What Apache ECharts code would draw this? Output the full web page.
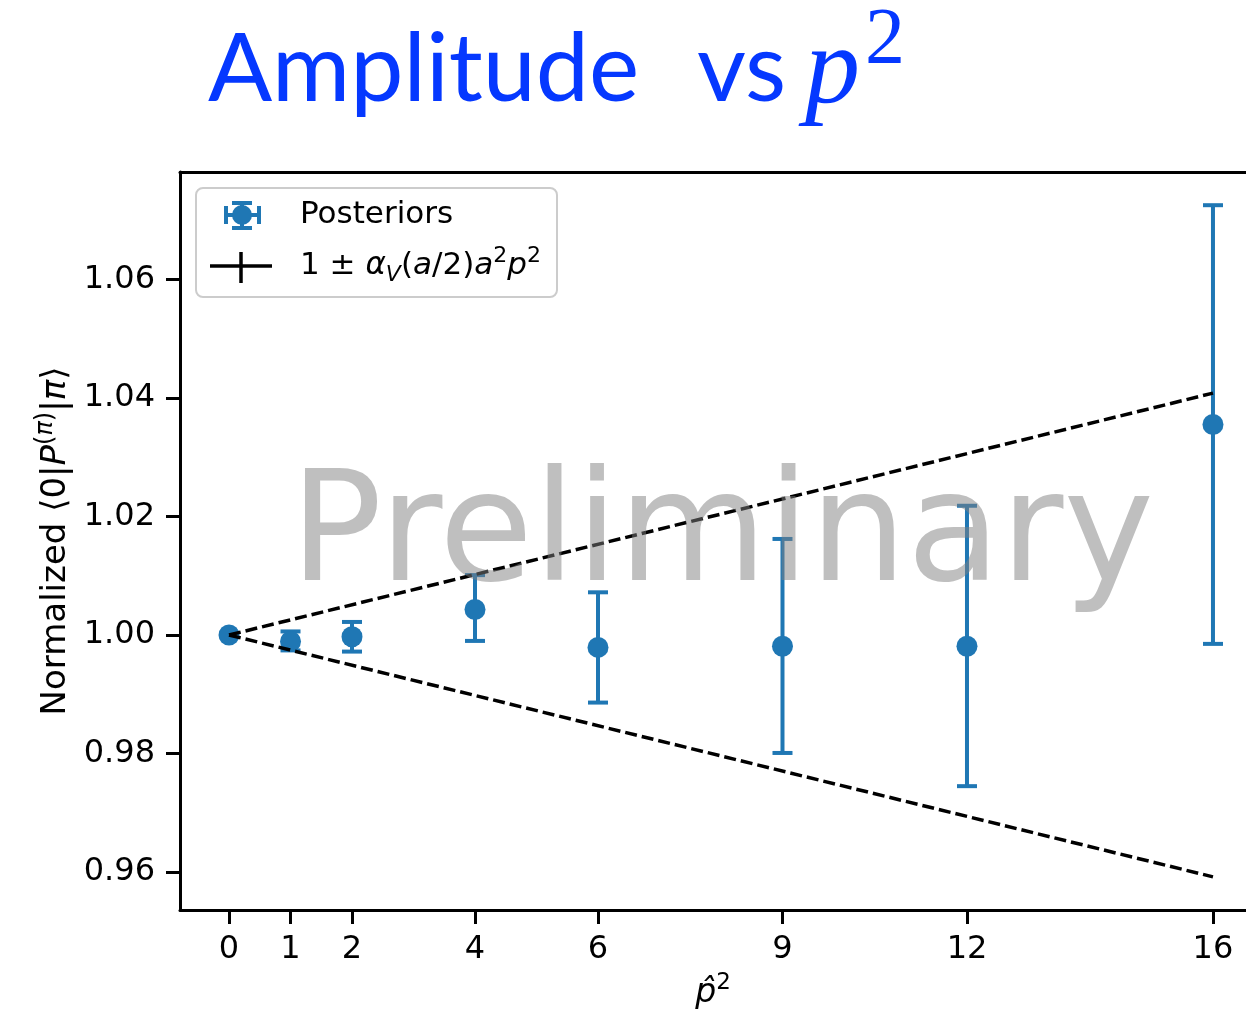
<!DOCTYPE html>
<html><head><meta charset="utf-8">
<script src="https://cdn.jsdelivr.net/npm/echarts@6/dist/echarts.min.js"></script>
<style>html,body{margin:0;padding:0;background:#fff}#c{width:1246px;height:1022px}</style>
</head><body><div id="c"></div>
<script>
// ---- data ----
const xTicks = [0, 1, 2, 4, 6, 9, 12, 16];
const yTicks = [0.96, 0.98, 1.00, 1.02, 1.04, 1.06];
const p2 = [0, 1, 2, 4, 6, 9, 12, 16];
const amp = [1.0000, 0.9989, 0.9997, 1.0043, 0.9979, 0.9981, 0.9981, 1.0355];
const errLo = [1.0000, 0.9974, 0.9972, 0.9990, 0.9886, 0.9801, 0.9745, 0.9985];
const errHi = [1.0000, 1.0006, 1.0022, 1.0101, 1.0072, 1.0162, 1.0218, 1.0725];
const bandX = [0, 16];
const bandUpper = [1.0, 1.0408];
const bandLower = [1.0, 0.9592];

const BLUE = '#1f77b4';
const FONT = 'DejaVu Sans';
const XMIN = -0.797, XMAX = 16.537;

const chart = echarts.init(document.getElementById('c'), null, {renderer: 'canvas'});

function mathRich(fs) {
  const s = Math.round(fs * 0.7);
  return {
    n: {fontFamily: FONT, fontSize: fs, lineHeight: fs + 10, color: '#000'},
    i: {fontFamily: FONT, fontStyle: 'italic', fontSize: fs, lineHeight: fs + 10, color: '#000'},
    sup: {fontFamily: FONT, fontSize: s, lineHeight: s + 1, verticalAlign: 'top', color: '#000'},
    supi: {fontFamily: FONT, fontStyle: 'italic', fontSize: s, lineHeight: s + 1, verticalAlign: 'top', color: '#000'},
    sub: {fontFamily: FONT, fontStyle: 'italic', fontSize: s, lineHeight: s + 7, verticalAlign: 'bottom', color: '#000'}
  };
}

const option = {
  animation: false,
  backgroundColor: '#fff',
  grid: {left: 180, top: 172, right: 0, bottom: 112, show: false},
  xAxis: [{
    type: 'value', min: XMIN, max: XMAX, position: 'bottom',
    name: '{i|p̂}{sup|2}', nameLocation: 'middle', nameGap: 62,
    nameTextStyle: {rich: mathRich(33)},
    axisLine: {show: true, onZero: false, lineStyle: {color: '#000', width: 3}},
    axisTick: {show: true, length: 14, lineStyle: {color: '#000', width: 3}, customValues: xTicks},
    axisLabel: {customValues: xTicks, fontFamily: FONT, fontSize: 32, color: '#000', margin: 24},
    splitLine: {show: false}
  }, {
    type: 'value', min: XMIN, max: XMAX, position: 'top',
    axisLine: {show: true, onZero: false, lineStyle: {color: '#000', width: 3}},
    axisTick: {show: false}, axisLabel: {show: false}, splitLine: {show: false}
  }],
  yAxis: {
    type: 'value', min: 0.95361, max: 1.0781,
    name: '{n|Normalized ⟨0|}{i|P}{sup|(}{supi|π}{sup|)}{n||}{i|π}{n|⟩}',
    nameLocation: 'middle', nameGap: 100, nameRotate: 90,
    nameTextStyle: {rich: mathRich(34)},
    axisLine: {show: true, onZero: false, lineStyle: {color: '#000', width: 3}},
    axisTick: {show: true, length: 14, lineStyle: {color: '#000', width: 3}, customValues: yTicks},
    axisLabel: {customValues: yTicks, fontFamily: FONT, fontSize: 32, color: '#000', margin: 25,
      formatter: v => v.toFixed(2)},
    splitLine: {show: false}
  },
  series: [
    {
      type: 'custom', name: 'errbars', z: 2,
      data: p2.map((x, i) => [x, errLo[i], errHi[i]]),
      encode: {x: 0, y: [1, 2]},
      renderItem: function (params, api) {
        const x = api.value(0), lo = api.value(1), hi = api.value(2);
        if (lo === hi) return null;
        const a = api.coord([x, lo]), b = api.coord([x, hi]);
        const w = 10;
        const st = {stroke: BLUE, lineWidth: 4, fill: null};
        return {type: 'group', children: [
          {type: 'line', shape: {x1: a[0], y1: a[1], x2: b[0], y2: b[1]}, style: st},
          {type: 'line', shape: {x1: a[0] - w, y1: a[1], x2: a[0] + w, y2: a[1]}, style: st},
          {type: 'line', shape: {x1: b[0] - w, y1: b[1], x2: b[0] + w, y2: b[1]}, style: st}
        ]};
      }
    },
    {
      type: 'scatter', name: 'Posteriors', z: 3,
      data: p2.map((x, i) => [x, amp[i]]),
      symbol: 'circle', symbolSize: 21,
      itemStyle: {color: BLUE, opacity: 1}
    },
    {
      type: 'line', name: 'upper', z: 4, showSymbol: false, symbol: 'none',
      data: bandX.map((x, i) => [x, bandUpper[i]]),
      lineStyle: {color: '#000', width: 3.5, type: [12, 5]}
    },
    {
      type: 'line', name: 'lower', z: 4, showSymbol: false, symbol: 'none',
      data: bandX.map((x, i) => [x, bandLower[i]]),
      lineStyle: {color: '#000', width: 3.5, type: [12, 5]}
    }
  ],
  graphic: [
    // title
    {type: 'text', x: 208, y: 70, z: 10, style: {text: 'Amplitude', fontFamily: 'Lato', fontSize: 95, fill: '#0538ff', verticalAlign: 'middle', align: 'left'}},
    {type: 'text', x: 697, y: 70, z: 10, style: {text: 'vs', fontFamily: 'Lato', fontSize: 95, fill: '#0538ff', verticalAlign: 'middle', align: 'left'}},
    {type: 'text', x: 805, y: 74, z: 10, style: {text: 'p', fontFamily: 'Liberation Serif', fontStyle: 'italic', fontSize: 110, fill: '#0538ff', verticalAlign: 'middle', align: 'left'}},
    {type: 'text', x: 865, y: 42, z: 10, style: {text: '2', fontFamily: 'Liberation Serif', fontSize: 80, fill: '#0538ff', verticalAlign: 'middle', align: 'left'}},
    // legend
    {type: 'rect', z: 20, shape: {x: 196, y: 188, width: 361, height: 109, r: 7}, style: {fill: 'rgba(255,255,255,0.8)', stroke: '#cccccc', lineWidth: 2}},
    {type: 'line', z: 21, shape: {x1: 226, y1: 215, x2: 259, y2: 215}, style: {stroke: BLUE, lineWidth: 4}},
    {type: 'line', z: 21, shape: {x1: 226, y1: 206, x2: 226, y2: 224}, style: {stroke: BLUE, lineWidth: 4}},
    {type: 'line', z: 21, shape: {x1: 259, y1: 206, x2: 259, y2: 224}, style: {stroke: BLUE, lineWidth: 4}},
    {type: 'line', z: 21, shape: {x1: 242, y1: 203, x2: 242, y2: 228}, style: {stroke: BLUE, lineWidth: 4}},
    {type: 'line', z: 21, shape: {x1: 232, y1: 203, x2: 252, y2: 203}, style: {stroke: BLUE, lineWidth: 4}},
    {type: 'line', z: 21, shape: {x1: 232, y1: 228, x2: 252, y2: 228}, style: {stroke: BLUE, lineWidth: 4}},
    {type: 'circle', z: 21, shape: {cx: 242, cy: 215, r: 10}, style: {fill: BLUE}},
    {type: 'line', z: 21, shape: {x1: 210, y1: 266, x2: 272, y2: 266}, style: {stroke: '#000', lineWidth: 3.5}},
    {type: 'line', z: 21, shape: {x1: 241, y1: 252, x2: 241, y2: 283}, style: {stroke: '#000', lineWidth: 3.5}},
    {type: 'text', z: 21, x: 300, y: 215, style: {text: 'Posteriors', fontFamily: FONT, fontSize: 31, fill: '#000', verticalAlign: 'middle', align: 'left'}},
    {type: 'text', z: 21, x: 300, y: 266, style: {text: '{n|1 ± }{i|α}{sub|V}{n|(}{i|a}{n|/2)}{i|a}{sup|2}{i|p}{sup|2}', rich: mathRich(31), verticalAlign: 'middle', align: 'left'}},
    // watermark
    {type: 'text', x: 722, y: 540, z: 100, silent: true, style: {text: 'Preliminary', fontFamily: FONT, fontSize: 153, fill: 'rgba(128,128,128,0.5)', align: 'center', verticalAlign: 'middle'}}
  ]
};
chart.setOption(option);
</script></body></html>
